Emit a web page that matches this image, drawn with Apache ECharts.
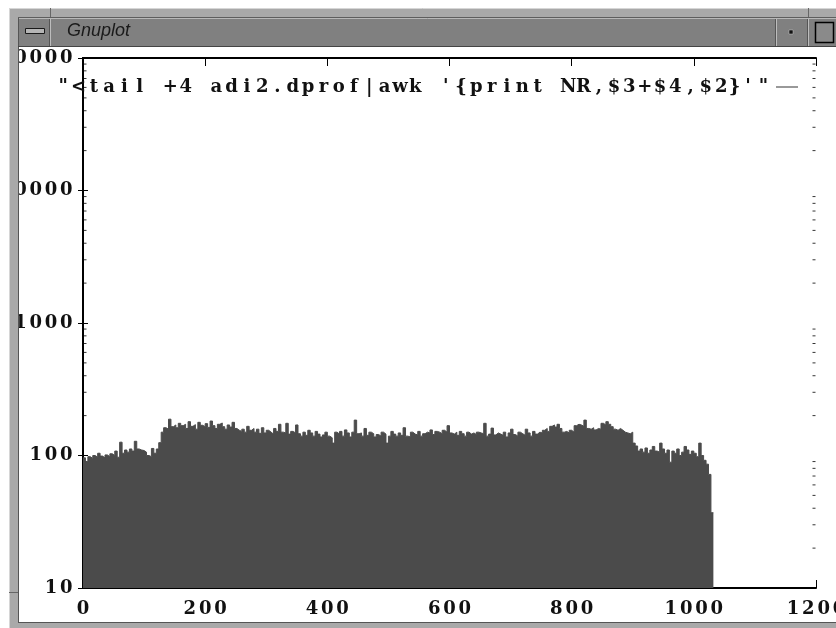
<!DOCTYPE html>
<html>
<head>
<meta charset="utf-8">
<script src="https://cdn.jsdelivr.net/npm/echarts@6/dist/echarts.min.js"></script>
<style>
  html, body { margin: 0; padding: 0; background: #fff; }
  #chart { width: 836px; height: 628px; }
</style>
</head>
<body>
<div id="chart"></div>
<script>
// Series title as gnuplot prints it in the key
const seriesName = "\"<tail +4 adi2.dprof|awk '{print NR,$3+$4,$2}'\"";

// Record counts per bin of NR (bins start at binStart, binWidth records wide)
const binStart = 0;
const binWidth = 4;
const counts = [
  96, 90, 98, 95, 100, 97, 104, 99, 96, 101,
  98, 103, 100, 108, 97, 126, 104, 110, 106, 112,
  108, 128, 112, 110, 109, 106, 100, 98, 113, 104,
  112, 125, 150, 162, 158, 188, 165, 170, 162, 175,
  168, 172, 160, 180, 166, 171, 158, 178, 169, 165,
  174, 163, 182, 168, 160, 172, 176, 165, 158, 170,
  164, 178, 160, 155, 152, 158, 150, 166, 155, 160,
  150, 158, 147, 162, 148, 155, 150, 145, 160, 152,
  172, 150, 148, 175, 145, 152, 148, 170, 146, 140,
  150, 142, 155, 148, 140, 152, 145, 138, 143, 150,
  140, 136, 124, 150, 145, 152, 140, 156, 148, 138,
  150, 185, 146, 148, 140, 160, 142, 150, 146, 138,
  144, 140, 150, 145, 124, 140, 152, 145, 140, 148,
  142, 162, 140, 138, 150, 145, 143, 152, 140, 146,
  150, 148, 156, 144, 152, 150, 146, 155, 150, 168,
  148, 145, 150, 142, 152, 146, 140, 150, 145, 148,
  144, 150, 148, 146, 175, 140, 145, 161, 143, 148,
  145, 142, 150, 138, 148, 158, 144, 140, 150, 146,
  142, 158, 148, 140, 152, 145, 150, 148, 155, 160,
  152, 166, 170, 164, 172, 160, 150, 152, 148, 155,
  150, 168, 172, 170, 166, 185, 160, 158, 162, 156,
  160, 158, 175, 170, 180, 172, 165, 158, 155, 160,
  155, 150, 148, 146, 150, 124, 118, 108, 112, 106,
  114, 104, 110, 117, 108, 106, 124, 112, 104, 110,
  89, 108, 104, 112, 100, 106, 117, 110, 102, 108,
  104, 98, 124, 100, 92, 86, 72, 37
];

// Axis ranges and ticks
const xMin = 0, xMax = 1200, xStep = 200;
const yMin = 10, yMax = 100000;
const yMinorTicks = [
  20, 30, 40, 50, 60, 70, 80, 90,
  200, 300, 400, 500, 600, 700, 800, 900,
  2000, 3000, 4000, 5000, 6000, 7000, 8000, 9000,
  20000, 30000, 40000, 50000, 60000, 70000, 80000, 90000
];

// Fixed-pitch text: every character gets its own cell (the X11 courier look)
const FONT = "'DejaVu Serif', 'Liberation Serif', serif";
const cellStyle = {
  width: 15.3, align: 'center', fontFamily: FONT, fontSize: 18,
  fontWeight: 'bold', color: '#111', lineHeight: 20
};
function pitched(text) {
  let out = '';
  for (const ch of String(text)) {
    out += ch === '}' ? ch : '{c|' + ch + '}';
  }
  return out;
}

// Step outline: each bin's left edge plus the closing right edge
const points = counts.map((v, i) => [binStart + i * binWidth, v]);
points.push([binStart + counts.length * binWidth, counts[counts.length - 1]]);

const FILL = '#4b4b4b';
const FRAME = '#a9a9a9';
const TITLEBAR = '#808080';

const chart = echarts.init(document.getElementById('chart'), null, { renderer: 'canvas' });

const axisLine = { show: true, lineStyle: { color: '#000', width: 2 } };

const option = {
  backgroundColor: '#fff',
  animation: false,
  grid: {
    left: 83, right: 20, top: 58, bottom: 40,
    containLabel: false, outerBoundsMode: 'none'
  },
  legend: {
    data: [seriesName],
    right: 38, top: 78, padding: 0,
    align: 'right',
    icon: 'rect', itemWidth: 22, itemHeight: 1.5,
    itemStyle: { color: '#777' },
    selectedMode: false,
    formatter: (name) => pitched(name),
    textStyle: {
      fontFamily: FONT, fontSize: 18, fontWeight: 'bold', color: '#111',
      rich: { c: cellStyle }
    }
  },
  xAxis: [
    {
      type: 'value', position: 'bottom', min: xMin, max: xMax, interval: xStep,
      axisLine, splitLine: { show: false },
      axisTick: { show: true, inside: true, length: 8, lineStyle: { color: '#000', width: 1 } },
      axisLabel: { margin: 11, formatter: (v) => pitched(v), rich: { c: cellStyle } }
    },
    {
      type: 'value', position: 'top', min: xMin, max: xMax, interval: xStep,
      axisLine, splitLine: { show: false },
      axisTick: { show: true, inside: true, length: 8, lineStyle: { color: '#000', width: 1 } },
      axisLabel: { show: false }
    }
  ],
  yAxis: [
    {
      type: 'log', logBase: 10, position: 'left', min: yMin, max: yMax,
      axisLine, splitLine: { show: false },
      axisTick: { show: true, inside: true, length: 5, lineStyle: { color: '#000', width: 1 } },
      axisLabel: { margin: 9, formatter: (v) => pitched(v), rich: { c: cellStyle } }
    },
    {
      type: 'log', logBase: 10, position: 'right', min: yMin, max: yMax,
      axisLine, splitLine: { show: false },
      axisTick: { show: true, inside: true, length: 5, lineStyle: { color: '#000', width: 1 } },
      axisLabel: { show: false }
    }
  ],
  series: [
    {
      name: 'minor-left', type: 'scatter', xAxisIndex: 0, yAxisIndex: 0,
      data: yMinorTicks.map((v) => [xMin, v]),
      symbol: 'rect', symbolSize: [3, 1], symbolOffset: [2, 0],
      itemStyle: { color: '#000' }, silent: true, clip: false
    },
    {
      name: 'minor-right', type: 'scatter', xAxisIndex: 0, yAxisIndex: 0,
      data: yMinorTicks.map((v) => [xMax, v]),
      symbol: 'rect', symbolSize: [3, 1], symbolOffset: [-2, 0],
      itemStyle: { color: '#000' }, silent: true, clip: false
    },
    {
      name: seriesName, type: 'line', xAxisIndex: 0, yAxisIndex: 0,
      data: points, step: 'end', showSymbol: false, symbol: 'none',
      lineStyle: { color: FILL, width: 1 },
      itemStyle: { color: '#777' },
      areaStyle: { color: FILL, opacity: 1, origin: 'start' },
      silent: true
    }
  ],
  // Motif-style window frame around the plot
  graphic: [
    { type: 'rect', z: 100, silent: true, shape: { x: 0, y: 0, width: 9, height: 628 }, style: { fill: '#fff' } },
    { type: 'rect', z: 100, silent: true, shape: { x: 0, y: 0, width: 836, height: 8 }, style: { fill: '#fff' } },
    { type: 'rect', z: 100, silent: true, shape: { x: 9, y: 8, width: 10, height: 620 }, style: { fill: FRAME } },
    { type: 'rect', z: 100, silent: true, shape: { x: 9, y: 8, width: 827, height: 10 }, style: { fill: FRAME } },
    { type: 'rect', z: 100, silent: true, shape: { x: 9, y: 622, width: 827, height: 6 }, style: { fill: FRAME } },
    { type: 'rect', z: 100, silent: true, shape: { x: 18, y: 18, width: 818, height: 28 }, style: { fill: TITLEBAR } },
    { type: 'line', z: 101, silent: true, shape: { x1: 9.5, y1: 8, x2: 9.5, y2: 628 }, style: { stroke: '#d6d6d6', lineWidth: 1 } },
    { type: 'line', z: 101, silent: true, shape: { x1: 9, y1: 8.5, x2: 836, y2: 8.5 }, style: { stroke: '#d6d6d6', lineWidth: 1 } },
    { type: 'line', z: 101, silent: true, shape: { x1: 18.5, y1: 18, x2: 18.5, y2: 622 }, style: { stroke: '#555', lineWidth: 1 } },
    { type: 'line', z: 101, silent: true, shape: { x1: 18, y1: 17.5, x2: 836, y2: 17.5 }, style: { stroke: '#5e5e5e', lineWidth: 1 } },
    { type: 'line', z: 101, silent: true, shape: { x1: 19, y1: 18.5, x2: 836, y2: 18.5 }, style: { stroke: '#b8b8b8', lineWidth: 1 } },
    { type: 'line', z: 101, silent: true, shape: { x1: 18, y1: 46.5, x2: 836, y2: 46.5 }, style: { stroke: '#444', lineWidth: 1 } },
    { type: 'line', z: 101, silent: true, shape: { x1: 18, y1: 622.5, x2: 836, y2: 622.5 }, style: { stroke: '#555', lineWidth: 1 } },
    { type: 'line', z: 101, silent: true, shape: { x1: 9, y1: 592.5, x2: 18, y2: 592.5 }, style: { stroke: '#666', lineWidth: 1 } },
    { type: 'line', z: 101, silent: true, shape: { x1: 50.5, y1: 8, x2: 50.5, y2: 17 }, style: { stroke: '#666', lineWidth: 1 } },
    { type: 'line', z: 101, silent: true, shape: { x1: 808.5, y1: 8, x2: 808.5, y2: 17 }, style: { stroke: '#666', lineWidth: 1 } },
    // title-bar separators
    { type: 'line', z: 101, silent: true, shape: { x1: 50.5, y1: 19, x2: 50.5, y2: 46 }, style: { stroke: '#bdbdbd', lineWidth: 1 } },
    { type: 'line', z: 101, silent: true, shape: { x1: 49.5, y1: 19, x2: 49.5, y2: 46 }, style: { stroke: '#555', lineWidth: 1 } },
    { type: 'line', z: 101, silent: true, shape: { x1: 776.5, y1: 19, x2: 776.5, y2: 46 }, style: { stroke: '#bdbdbd', lineWidth: 1 } },
    { type: 'line', z: 101, silent: true, shape: { x1: 775.5, y1: 19, x2: 775.5, y2: 46 }, style: { stroke: '#555', lineWidth: 1 } },
    { type: 'line', z: 101, silent: true, shape: { x1: 808.5, y1: 19, x2: 808.5, y2: 46 }, style: { stroke: '#bdbdbd', lineWidth: 1 } },
    { type: 'line', z: 101, silent: true, shape: { x1: 807.5, y1: 19, x2: 807.5, y2: 46 }, style: { stroke: '#555', lineWidth: 1 } },
    // window-menu button
    { type: 'rect', z: 102, silent: true, shape: { x: 25.5, y: 28.5, width: 19, height: 5 }, style: { fill: '#b5b5b5', stroke: '#1a1a1a', lineWidth: 1 } },
    // title
    { type: 'text', z: 102, silent: true, x: 67, y: 31,
      style: { text: 'Gnuplot', fill: '#1a1a1a', font: "italic 18px 'Liberation Sans', Arial, sans-serif", verticalAlign: 'middle', align: 'left' } },
    // minimize / maximize buttons
    { type: 'rect', z: 102, silent: true, shape: { x: 789, y: 30, width: 4, height: 4 }, style: { fill: '#111', stroke: '#c8c8c8', lineWidth: 0.5 } },
    { type: 'rect', z: 102, silent: true, shape: { x: 815.5, y: 22.5, width: 18, height: 20 }, style: { fill: '#8a8a8a', stroke: '#000', lineWidth: 1.5 } }
  ]
};

chart.setOption(option);
</script>
</body>
</html>
